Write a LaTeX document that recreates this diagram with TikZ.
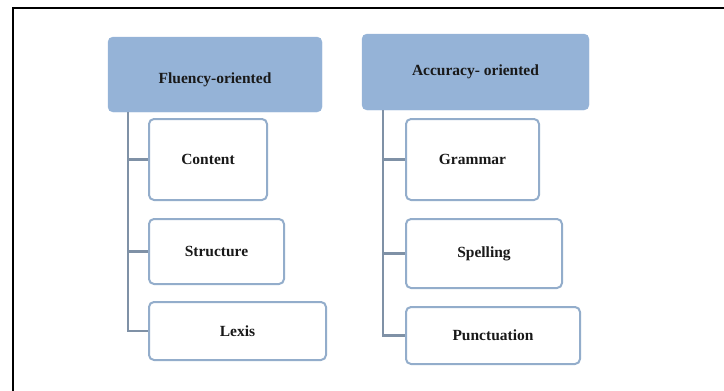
\documentclass[tikz,border=0pt]{standalone}
\usepackage{fontspec}
\setmainfont{Liberation Serif}
\begin{document}
\begin{tikzpicture}[x=1pt,y=-1pt,
  every node/.style={font=\fontsize{15.5}{18}\selectfont\bfseries, text=black!90},
  head/.style={fill=headblue, draw=headblue, rounded corners=5pt, inner sep=0pt},
  item/.style={draw=itemline, line width=2pt, fill=white, rounded corners=5pt, inner sep=0pt},
  link/.style={draw=linkgray, line width=2.6pt}]
\definecolor{headblue}{HTML}{95B3D7}
\definecolor{itemline}{HTML}{93ADCB}
\definecolor{linkgray}{HTML}{7F91A6}
\useasboundingbox (0,0) rectangle (724,391);
% outer frame (open to the right and bottom)
\draw[line width=2pt] (13,391) -- (13,7.5) -- (724,7.5);

% left column
\node[head, minimum width=214pt, minimum height=75pt, text height=22pt, text depth=3.5pt] (fl) at (215,74.5) {Fluency-oriented};
\node[item, minimum width=118pt, minimum height=81pt] (co) at (208,159.5) {Content};
\node[item, minimum width=135pt, minimum height=65pt] (st) at (216.5,251.5) {Structure};
\node[item, minimum width=177pt, minimum height=58pt] (lx) at (237.5,331) {Lexis};
\draw[link] ([xshift=20pt]fl.south west) |- (co.west);
\draw[link] ([xshift=20pt]fl.south west) |- (st.west);
\draw[link] ([xshift=20pt]fl.south west) |- (lx.west);

% right column
\node[head, minimum width=227pt, minimum height=76pt] (ac) at (475.5,72) {Accuracy- oriented};
\node[item, minimum width=133pt, minimum height=81pt] (gr) at (472.5,159.5) {Grammar};
\node[item, minimum width=156pt, minimum height=69pt] (sp) at (484,253.5) {Spelling};
\node[item, minimum width=174pt, minimum height=57pt] (pu) at (493,335.5) {Punctuation};
\draw[link] ([xshift=21pt]ac.south west) |- (gr.west);
\draw[link] ([xshift=21pt]ac.south west) |- (sp.west);
\draw[link] ([xshift=21pt]ac.south west) |- (pu.west);
\end{tikzpicture}
\end{document}
